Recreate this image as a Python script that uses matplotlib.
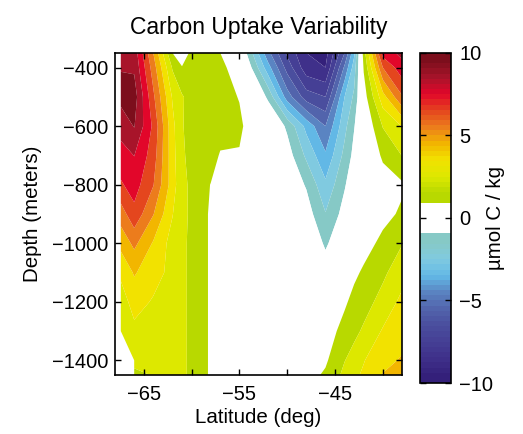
import numpy as np
import matplotlib
matplotlib.use("Agg")
import matplotlib.pyplot as plt
from matplotlib.colors import ListedColormap, Normalize, to_rgb
from matplotlib.cm import ScalarMappable

# grid of the section (latitude in deg, depth in m)
lats = [-67.4, -66, -64, -62, -61, -60, -58, -57, -55, -54,
        -52, -50, -48, -46, -44, -43, -42, -40, -38]
depths = [-350, -400, -500, -600, -700, -800, -900,
          -1000, -1100, -1200, -1300, -1400, -1450]
nan = np.nan
# carbon uptake variability, umol C / kg (rows follow depths, columns follow lats)
uptake = [
    [8.5, 8.6, 5.0, 1.0, 0.5, 1.2, 1.3, 1.0, 0.2, -1.4, -4.7, -7.2, -9.0, -9.4, -6.0, -3.2, 1.5, 7.4, 8.3],
    [8.95, 8.85, 5.5, 1.9, 1.05, 1.4, 1.35, 1.2, 0.6, -0.6, -3.6, -6.4, -8.6, -9.0, -4.8, -2.5, 1.1, 6.0, 7.6],
    [9.3, 9.5, 6.2, 2.9, 2.1, 1.6, 1.45, 1.4, 0.95, 0.5, -1.2, -4.5, -6.5, -7.0, -3.0, -1.8, 0.5, 3.6, 5.9],
    [8.4, 9.05, 6.8, 3.3, 2.05, 1.75, 1.5, 1.5, 1.2, 0.7, 0.2, -1.2, -3.3, -5.0, -2.3, -1.05, 0.0, 2.05, 3.05],
    [7.6, 8.02, 6.5, 3.4, 2.1, 1.8, 1.5, 0.9, 0.92, 0.5, 0.1, -0.5, -2.2, -3.85, -1.7, -0.7, -0.3, 1.2, 2.02],
    [6.87, 7.45, 6.05, 3.5, 2.2, 1.85, 0.97, 0.6, 0.5, 0.3, 0.0, -0.2, -1.1, -2.8, -1.1, -0.3, 0.0, 0.4, 0.85],
    [5.5, 6.7, 5.05, 3.05, 2.15, 1.9, 0.85, 0.6, 0.5, 0.4, 0.2, 0.0, -0.5, -1.95, -0.6, 0.0, 0.3, 0.7, 1.15],
    [4.3, 5.25, 3.9, 2.6, 2.1, 1.9, 0.85, 0.6, 0.5, 0.45, 0.35, 0.2, -0.1, -1.15, -0.2, 0.3, 0.6, 1.25, 1.95],
    [3.2, 4.1, 3.4, 2.7, 2.1, 1.9, 0.85, 0.6, 0.5, 0.45, 0.4, 0.3, 0.1, -0.5, 0.3, 0.8, 1.15, 1.8, 2.6],
    [2.5, 3.4, 2.9, 2.4, 2.1, 1.9, 0.85, 0.6, 0.5, 0.45, 0.4, 0.35, 0.25, -0.1, 0.85, 1.3, 1.6, 2.35, 3.25],
    [2.2, 2.75, 2.5, 2.3, 2.1, 1.9, 0.85, 0.6, 0.5, 0.45, 0.4, 0.35, 0.35, 0.5, 1.35, 1.75, 2.15, 3.1, 3.6],
    [nan, 2.3, 2.2, 2.15, 2.1, 1.9, 0.85, 0.6, 0.5, 0.45, 0.4, 0.4, 0.45, 0.85, 1.97, 2.4, 2.95, 3.7, 4.1],
    [nan, 1.75, 2.05, 2.1, 2.1, 1.9, 0.85, 0.6, 0.5, 0.45, 0.4, 0.45, 0.6, 1.15, 2.25, 2.8, 3.15, 4.05, 4.3],
]

levels = np.arange(-10, 11, 1)
cbar_ticks = [-10, -5, 0, 5, 10]

# band colours, from -10..-9 up to 9..10 (the -1..1 band left white)
band_colors = [
    '#34207a', '#3f308a', '#453f95', '#4a4e9e', '#5264ac',
    '#5a84c2', '#62b8e6', '#80cae0', '#86c9c6', '#ffffff',
    '#ffffff', '#b8d900', '#dde800', '#f2e200', '#f2b600',
    '#ec7c1c', '#e4461e', '#e2062a', '#a8142a', '#7c0e1c',
]


def colorbar_map(n=64):
    """Build the stepped colour map shown in the colour bar"""
    mids = levels[:-1] + 0.5
    rgb = np.array([to_rgb(c) for c in band_colors])
    vals = -10 + 20 * (np.arange(n) + 0.5) / n
    out = np.ones((n, 3))
    for sign in (-1, 1):
        keep = sign * mids > 1
        sel = sign * vals >= 1
        for k in range(3):
            out[sel, k] = np.interp(vals[sel], mids[keep], rgb[keep, k])
    return ListedColormap(out)


plt.rcParams['font.family'] = ['Liberation Sans', 'DejaVu Sans']

fig = plt.figure(figsize=(5.23, 4.34), dpi=100)
ax = fig.add_axes([0.22, 0.136, 0.5486, 0.742])

field = np.ma.masked_invalid(np.array(uptake))
ax.contourf(lats, depths, field, levels=levels, colors=band_colors,
            corner_mask=True, antialiased=True)

ax.set_xlim(-68, -38)
ax.set_ylim(-1450, -350)
ax.set_xticks([-65, -55, -45])
ax.set_xticks([-60, -50, -40], minor=True)
ax.set_yticks(np.arange(-1400, -399, 200))
ax.tick_params(which='both', direction='in', top=True, right=True,
               length=4, width=1, labelsize=14.5, pad=5)
ax.tick_params(axis='x', pad=7)
for spine in ax.spines.values():
    spine.set_linewidth(1.2)

ax.set_title('Carbon Uptake Variability', fontsize=16.5, pad=14)
ax.set_xlabel('Latitude (deg)', fontsize=14.8, labelpad=3)
ax.set_ylabel('Depth (meters)', fontsize=14.8, labelpad=7)

cax = fig.add_axes([0.803, 0.1175, 0.059, 0.7605])
sm = ScalarMappable(norm=Normalize(-10, 10), cmap=colorbar_map())
cbar = fig.colorbar(sm, cax=cax, ticks=cbar_ticks)
cax.tick_params(direction='in', left=True, right=True, length=4,
                width=1, labelsize=14.5, pad=6)
cbar.outline.set_linewidth(1.2)
cbar.set_label('\u00b5mol C / kg', fontsize=14.8, labelpad=-5)

fig.savefig('out.png', dpi=100)
